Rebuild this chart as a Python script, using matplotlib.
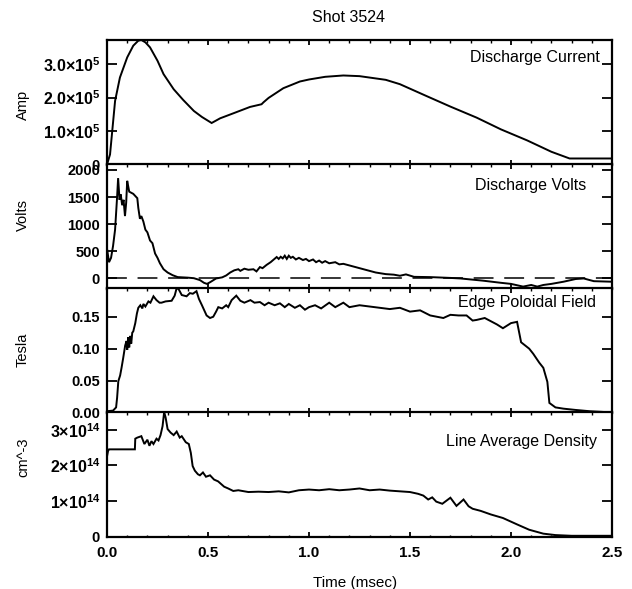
import matplotlib
matplotlib.use("Agg")
import matplotlib.pyplot as plt
from matplotlib.ticker import FixedLocator, MultipleLocator

plt.rcParams['font.family'] = ['Liberation Sans', 'DejaVu Sans']
plt.rcParams['mathtext.fontset'] = 'custom'
plt.rcParams['mathtext.rm'] = 'Liberation Sans:bold'
plt.rcParams['mathtext.it'] = 'Liberation Sans:bold'
plt.rcParams['mathtext.bf'] = 'Liberation Sans:bold'

title = "Shot 3524"
xlabel = "Time (msec)"
panel_names = ["Discharge Current", "Discharge Volts", "Edge Poloidal Field", "Line Average Density"]
ylabels = ["Amp", "Volts", "Tesla", "cm^-3"]

# Discharge current (A)
t_cur = [0.0, 0.015, 0.04, 0.064, 0.1, 0.13, 0.155, 0.17, 0.19, 0.213, 0.25, 0.28, 0.33, 0.377,
         0.43, 0.47, 0.518, 0.56, 0.63, 0.708, 0.765, 0.775, 0.80, 0.873, 0.955, 1.0, 1.08, 1.17,
         1.25, 1.38, 1.45, 1.58, 1.7, 1.83, 1.95, 2.08, 2.2, 2.29, 2.5]
i_cur = [0.0, 0.3e5, 1.9e5, 2.6e5, 3.2e5, 3.55e5, 3.7e5, 3.72e5, 3.65e5, 3.5e5, 3.1e5, 2.7e5,
         2.25e5, 1.93e5, 1.6e5, 1.42e5, 1.24e5, 1.38e5, 1.54e5, 1.72e5, 1.8e5, 1.86e5, 1.99e5,
         2.28e5, 2.48e5, 2.54e5, 2.62e5, 2.66e5, 2.64e5, 2.53e5, 2.4e5, 2.05e5, 1.73e5, 1.4e5,
         1.05e5, 0.72e5, 0.38e5, 0.18e5, 0.18e5]

# Discharge volts (V)
t_volt = [0.0, 0.01, 0.02, 0.03, 0.04, 0.05, 0.055, 0.062, 0.068, 0.075, 0.082, 0.089, 0.095, 0.10,
          0.105, 0.11, 0.12, 0.13, 0.14, 0.15, 0.155, 0.163, 0.17, 0.18, 0.19, 0.2, 0.213, 0.225,
          0.238, 0.25, 0.262, 0.28, 0.30, 0.325, 0.35, 0.4, 0.43, 0.46, 0.48, 0.495, 0.51, 0.54,
          0.57, 0.59, 0.61, 0.63, 0.65, 0.66, 0.68, 0.70, 0.725, 0.74, 0.757, 0.77, 0.79, 0.81,
          0.84, 0.85, 0.86, 0.87, 0.88, 0.89, 0.9, 0.91, 0.92, 0.935, 0.95, 0.97, 0.985, 1.0,
          1.02, 1.035, 1.05, 1.065, 1.08, 1.1, 1.13, 1.15, 1.17, 1.2, 1.25, 1.3, 1.33, 1.38, 1.42,
          1.45, 1.48, 1.52, 1.6, 1.7, 1.75, 1.86, 1.95, 2.0, 2.06, 2.1, 2.13, 2.16, 2.2, 2.26,
          2.32, 2.36, 2.41, 2.5]
v_volt = [550, 300, 380, 600, 900, 1500, 1850, 1450, 1550, 1350, 1450, 1150, 1400, 1800,
          1700, 1600, 1580, 1560, 1520, 1480, 1300, 1100, 1150, 1050, 900, 850, 700, 650,
          460, 380, 280, 170, 110, 60, 25, 15, 5, -30, -80, -100, -70, 0,
          20, 55, 110, 150, 170, 140, 180, 160, 170, 130, 210, 190, 250, 300,
          395, 360, 400, 370, 420, 360, 420, 380, 400, 350, 380, 340, 360, 320,
          350, 300, 330, 290, 320, 280, 300, 260, 270, 240, 190, 140, 110, 80, 70,
          50, 75, 30, 25, 10, 0, -40, -80, -100, -150, -120, -150, -120, -100, -60,
          -10, 0, -50, -60]

# Edge poloidal field (T)
t_bp = [0.0, 0.03, 0.045, 0.05, 0.056, 0.065, 0.072, 0.08, 0.09, 0.097, 0.1, 0.105, 0.11, 0.115,
        0.12, 0.125, 0.13, 0.14, 0.148, 0.155, 0.165, 0.175, 0.18, 0.19, 0.205, 0.215, 0.23,
        0.245, 0.26, 0.27, 0.29, 0.32, 0.335, 0.345, 0.355, 0.37, 0.394, 0.41, 0.425, 0.443,
        0.455, 0.47, 0.493, 0.51, 0.526, 0.54, 0.551, 0.57, 0.59, 0.6, 0.617, 0.63, 0.64, 0.66,
        0.68, 0.71, 0.73, 0.757, 0.78, 0.8, 0.83, 0.856, 0.88, 0.9, 0.93, 0.955, 0.98, 1.0,
        1.03, 1.06, 1.1, 1.13, 1.17, 1.2, 1.25, 1.3, 1.35, 1.4, 1.45, 1.5, 1.55, 1.6, 1.665,
        1.7, 1.74, 1.78, 1.81, 1.83, 1.87, 1.9, 1.93, 1.96, 2.0, 2.03, 2.05, 2.07, 2.09, 2.11,
        2.14, 2.16, 2.18, 2.19, 2.22, 2.26, 2.32, 2.39, 2.45, 2.5]
b_bp = [0.002, 0.003, 0.008, 0.023, 0.049, 0.058, 0.07, 0.085, 0.105, 0.112, 0.098, 0.118, 0.102,
        0.12, 0.108, 0.125, 0.127, 0.14, 0.155, 0.164, 0.168, 0.163, 0.17, 0.166, 0.174, 0.172,
        0.182, 0.176, 0.172, 0.172, 0.174, 0.175, 0.183, 0.195, 0.193, 0.184, 0.182, 0.187,
        0.186, 0.19, 0.178, 0.168, 0.152, 0.148, 0.15, 0.158, 0.165, 0.163, 0.168, 0.165,
        0.176, 0.18, 0.183, 0.175, 0.172, 0.176, 0.172, 0.173, 0.168, 0.172, 0.168, 0.171,
        0.165, 0.17, 0.164, 0.168, 0.161, 0.165, 0.168, 0.163, 0.172, 0.165, 0.172, 0.165,
        0.168, 0.166, 0.164, 0.162, 0.164, 0.158, 0.16, 0.152, 0.148, 0.153, 0.152, 0.152,
        0.144, 0.145, 0.148, 0.143, 0.138, 0.132, 0.14, 0.142, 0.11, 0.105, 0.1, 0.092, 0.078,
        0.07, 0.048, 0.015, 0.008, 0.006, 0.004, 0.002, 0.001, 0.0]

# Line average density (cm^-3)
t_ne = [0.0, 0.005, 0.01, 0.138, 0.14, 0.15, 0.17, 0.185, 0.2, 0.21, 0.22, 0.23, 0.245, 0.255,
        0.265, 0.275, 0.283, 0.29, 0.30, 0.315, 0.33, 0.345, 0.36, 0.37, 0.39, 0.405, 0.415,
        0.424, 0.435, 0.45, 0.46, 0.475, 0.49, 0.51, 0.53, 0.55, 0.58, 0.6, 0.625, 0.65, 0.7,
        0.75, 0.8, 0.85, 0.9, 0.95, 1.0, 1.05, 1.1, 1.15, 1.2, 1.25, 1.3, 1.35, 1.4, 1.45, 1.5,
        1.54, 1.566, 1.59, 1.61, 1.63, 1.66, 1.70, 1.73, 1.765, 1.79, 1.81, 1.85, 1.9, 1.96,
        2.03, 2.09, 2.16, 2.22, 2.3, 2.4, 2.5]
n_ne = [2.25e14, 2.4e14, 2.45e14, 2.45e14, 2.75e14, 2.78e14, 2.82e14, 2.6e14, 2.72e14, 2.55e14,
        2.68e14, 2.6e14, 2.75e14, 2.7e14, 2.85e14, 3.1e14, 3.5e14, 3.35e14, 3.02e14, 2.92e14,
        2.85e14, 2.95e14, 2.78e14, 2.82e14, 2.65e14, 2.6e14, 2.35e14, 1.98e14, 1.85e14, 1.75e14,
        1.72e14, 1.8e14, 1.68e14, 1.72e14, 1.6e14, 1.55e14, 1.4e14, 1.35e14, 1.28e14, 1.3e14,
        1.25e14, 1.26e14, 1.25e14, 1.27e14, 1.24e14, 1.3e14, 1.32e14, 1.3e14, 1.33e14, 1.3e14,
        1.32e14, 1.35e14, 1.3e14, 1.32e14, 1.29e14, 1.27e14, 1.25e14, 1.2e14, 1.15e14, 1.04e14,
        1.1e14, 0.98e14, 0.92e14, 1.09e14, 0.86e14, 1.04e14, 0.85e14, 0.78e14, 0.72e14,
        0.62e14, 0.52e14, 0.34e14, 0.19e14, 0.08e14, 0.04e14, 0.02e14, 0.02e14, 0.02e14]

yticks = [[0, 1.0e5, 2.0e5, 3.0e5], [0, 500, 1000, 1500, 2000],
          [0.0, 0.05, 0.10, 0.15], [0, 1e14, 2e14, 3e14]]
yticklabels = [["0", r"$1.0{\times}10^{5}$", r"$2.0{\times}10^{5}$", r"$3.0{\times}10^{5}$"],
               ["0", "500", "1000", "1500", "2000"],
               ["0.00", "0.05", "0.10", "0.15"],
               ["0", r"$1{\times}10^{14}$", r"$2{\times}10^{14}$", r"$3{\times}10^{14}$"]]
ylims = [(0, 3.72e5), (-185, 2110), (0.0, 0.195), (0, 3.5e14)]
xticks = [0.0, 0.5, 1.0, 1.5, 2.0, 2.5]
xticklabels = ["0.0", "0.5", "1.0", "1.5", "2.0", "2.5"]

series = [(t_cur, i_cur), (t_volt, v_volt), (t_bp, b_bp), (t_ne, n_ne)]
label_pos = [(0.976, 0.863), (0.949, 0.83), (0.968, 0.88), (0.970, 0.764)]
ylab_y = [105, 215, 350, 457]

W, H = 632, 589
fig = plt.figure(figsize=(W / 100, H / 100), dpi=100)
left, right = 107, 612
tops = [40, 164, 288, 412]
ph = 124.5

for k in range(4):
    top = tops[k]
    ax = fig.add_axes([left / W, (H - top - ph) / H, (right - left) / W, ph / H])
    t, y = series[k]
    ax.plot(t, y, color='black', lw=1.4, solid_joinstyle='miter')
    if k == 1:
        ax.axhline(0, color='black', lw=1.1, linestyle=(0, (13, 7)))
    ax.set_xlim(0, 2.5)
    ax.set_ylim(*ylims[k])
    ax.yaxis.set_major_locator(FixedLocator(yticks[k]))
    ax.set_yticklabels(yticklabels[k])
    ax.xaxis.set_major_locator(FixedLocator(xticks))
    ax.xaxis.set_minor_locator(MultipleLocator(0.1))
    if k == 3:
        ax.set_xticklabels(xticklabels)
    else:
        ax.set_xticklabels([])
    ax.tick_params(axis='y', which='major', direction='in', left=True, right=True,
                   length=7.5, width=1.3, pad=5, labelsize=10.5)
    ax.tick_params(axis='x', which='major', direction='in', top=True, bottom=True,
                   length=3.5, width=1.3, pad=7, labelsize=11)
    ax.tick_params(axis='x', which='minor', direction='in', top=True, bottom=True,
                   length=1.8, width=1.0)
    for lab in ax.get_yticklabels() + ax.get_xticklabels():
        lab.set_fontweight('bold')
        if '$' in lab.get_text():
            lab.set_fontsize(11.5)
    for s in ax.spines.values():
        s.set_linewidth(1.6)
    ax.text(label_pos[k][0], label_pos[k][1], panel_names[k], transform=ax.transAxes,
            ha='right', va='center', fontsize=11.5)
    fig.text(23 / W, (H - ylab_y[k]) / H, ylabels[k], rotation=90, ha='center',
             va='center', fontsize=10.5)

fig.text(348.5 / W, (H - 18) / H, title, ha='center', va='center', fontsize=11.5)
fig.text(355 / W, (H - 583) / H, xlabel, ha='center', va='center', fontsize=11)

fig.savefig("out.png", dpi=100)
